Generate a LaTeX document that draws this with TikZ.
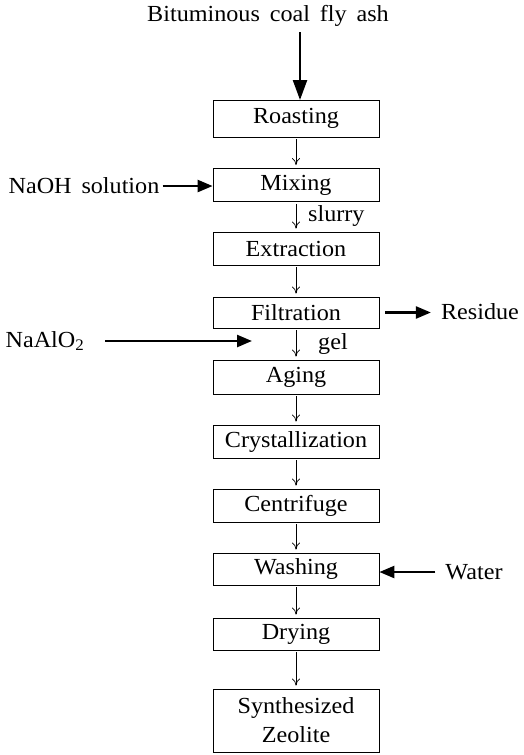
\documentclass[tikz,border=0pt]{standalone}
\usepackage{fontspec}
\setmainfont{Liberation Serif}[FakeStretch=1.05]
\usetikzlibrary{arrows.meta}
\begin{document}
\begin{tikzpicture}[x=1pt,y=-1pt,
  every node/.style={font=\fontsize{23}{26}\selectfont, inner sep=0pt},
  stepbox/.style={draw, line width=0.8pt, minimum width=166pt, minimum height=33pt, align=center},
  thin arrow/.style={line width=0.7pt, -{To[length=7pt,width=8pt]}},
  thick arrow/.style={line width=2.4pt, -{Triangle[length=15pt,width=12pt]}},
  lbl/.style={}]
\useasboundingbox (0,0) rectangle (523,755);
\node[lbl] (src) at (268,16) {Bituminous\, coal\, fly\, ash};
\node[stepbox, minimum height=37pt] (roast) at (296,118.5) {Roasting};
\node[stepbox] (mix) at (296,185) {Mixing};
\node[stepbox] (ext) at (296,248.5) {Extraction};
\node[stepbox, minimum height=31pt] (fil) at (296,312.5) {Filtration};
\node[stepbox, minimum height=34pt] (age) at (296,377) {Aging};
\node[stepbox] (cry) at (296,441.5) {Crystallization};
\node[stepbox] (cen) at (296,505.5) {Centrifuge};
\node[stepbox, minimum height=32pt] (wash) at (296,569) {Washing};
\node[stepbox, minimum height=32pt] (dry) at (296,634) {Drying};
\node[stepbox, minimum height=63pt, font=\fontsize{23}{29}\selectfont] (syn) at (296,720.5) {Synthesized\\Zeolite};
% side labels
\node[lbl] (naoh) at (84,186) {NaOH\, solution};
\node[lbl] (naal) at (45,341) {NaAlO\textsubscript{2}};
\node[lbl] (res) at (480,312) {Residue};
\node[lbl] (water) at (474,572) {Water};
\node[lbl, anchor=west] (slurry) at (308,216) {slurry};
\node[lbl, anchor=west] (gel) at (318,344) {gel};
\coordinate (srcstart) at (300,32);
\coordinate (srcend) at (300,100);
\coordinate (naalstart) at (105,341);
\coordinate (naalend) at (252,341);
% main arrows
\draw[thick arrow, -{Triangle[length=20pt,width=14pt]}] (srcstart) -- (srcend);
\draw[thin arrow, shorten <=2pt, shorten >=3pt] (roast) -- (mix);
\draw[thin arrow, shorten <=2pt, shorten >=3pt] (mix) -- (ext);
\draw[thin arrow, shorten <=2pt, shorten >=3pt] (ext) -- (fil);
\draw[thin arrow, shorten <=2pt, shorten >=3pt] (fil) -- (age);
\draw[thin arrow, shorten <=2pt, shorten >=3pt] (age) -- (cry);
\draw[thin arrow, shorten <=2pt, shorten >=3pt] (cry) -- (cen);
\draw[thin arrow, shorten <=2pt, shorten >=3pt] (cen) -- (wash);
\draw[thin arrow, shorten <=2pt, shorten >=3pt] (wash) -- (dry);
\draw[thin arrow, shorten <=2pt, shorten >=3pt] (dry) -- (syn);
% side arrows
\draw[thick arrow] ([xshift=3pt]naoh.east) -- (mix.west |- naoh.east);
\draw[thick arrow] (naalstart) -- (naalend);
\draw[thick arrow] ([xshift=6pt]fil.east) -- ([xshift=-10pt]res.west |- fil.east);
\draw[thick arrow] ([xshift=-10pt]water.west) -- (wash.east |- water.west);
\end{tikzpicture}
\end{document}
